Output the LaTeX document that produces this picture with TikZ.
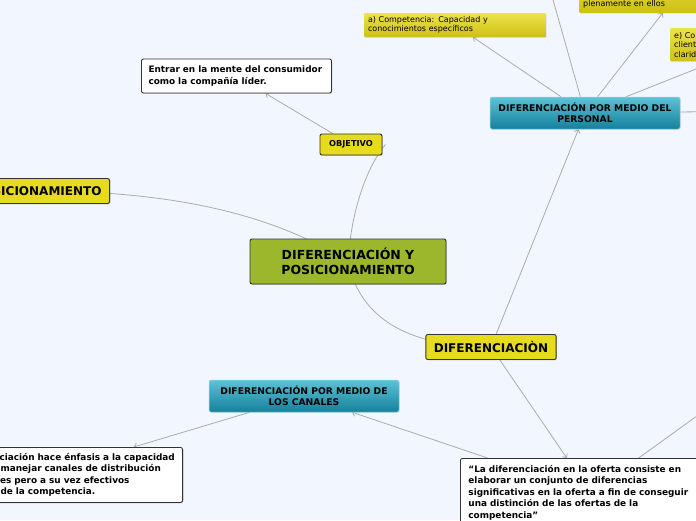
\documentclass[tikz,border=0pt]{standalone}
\usepackage{fontspec}
\setmainfont{DejaVu Sans}
\usetikzlibrary{arrows.meta,shadows}
\definecolor{paper}{RGB}{242,246,254}
\definecolor{olive}{RGB}{157,183,45}
\definecolor{mmyellow}{RGB}{230,219,28}
\definecolor{tealtop}{RGB}{92,194,215}
\definecolor{tealbot}{RGB}{22,128,156}
\definecolor{ytop}{RGB}{237,227,75}
\definecolor{ybot}{RGB}{206,192,22}
\definecolor{linkgray}{RGB}{172,172,172}
\pgfdeclarelayer{canvas}
\pgfdeclarelayer{links}
\pgfsetlayers{canvas,links,main}
\tikzset{
  keybox/.style={draw=black!80, line width=0.9pt, rounded corners=2pt,
    drop shadow={shadow xshift=0.8pt, shadow yshift=-0.8pt, opacity=0.35}},
  rootbox/.style={keybox, fill=olive, align=center,
    font=\bfseries\fontsize{12.5}{14.5}\selectfont, minimum width=196pt, minimum height=45pt},
  topicbox/.style={keybox, fill=mmyellow, inner xsep=8pt,
    font=\bfseries\fontsize{12}{14}\selectfont, minimum height=25pt},
  tagbox/.style={keybox, fill=mmyellow, font=\bfseries\fontsize{8.2}{10}\selectfont,
    minimum width=62pt, minimum height=21pt},
  notebox/.style={keybox, fill=white, align=left, inner xsep=7pt,
    font=\bfseries\fontsize{8.9}{11.4}\selectfont},
  tealbox/.style={rounded corners=2pt, top color=tealtop, bottom color=tealbot,
    draw=tealtop!60!white, line width=0.5pt, align=center,
    font=\bfseries\fontsize{9.2}{11}\selectfont, minimum width=190pt, minimum height=32pt,
    drop shadow={shadow xshift=0.6pt, shadow yshift=-0.8pt, opacity=0.25}},
  detailbox/.style={rounded corners=1pt, top color=ytop, bottom color=ybot, align=left,
    inner xsep=4pt, font=\fontsize{8}{9.5}\selectfont,
    drop shadow={shadow xshift=0.6pt, shadow yshift=-0.8pt, opacity=0.2}},
  branchline/.style={draw=linkgray, line width=0.8pt},
  arrowline/.style={branchline, -{Straight Barb[length=3pt,width=6pt]}}
}
\begin{document}
\begin{tikzpicture}[x=1pt, y=-1pt]
\useasboundingbox (0,0) rectangle (696,520);
\begin{pgfonlayer}{canvas}
  \fill[paper] (0,0) rectangle (696,520);
\end{pgfonlayer}
\clip (0,0) rectangle (696,520);

\node[rootbox] (root) at (348,261.5) {DIFERENCIACIÓN Y\\POSICIONAMIENTO};
\node[topicbox, anchor=east] (posic) at (110,191) {POSICIONAMIENTO};
\node[tagbox] (objetivo) at (351,144.5) {OBJETIVO};
\node[notebox, text width=176pt, minimum height=34pt] (mente) at (236.5,76)
  {Entrar en la mente del consumidor\\como la compañía líder.};
\node[topicbox] (difer) at (491,347) {DIFERENCIACIÒN};
\node[tealbox] (personal) at (585,113) {DIFERENCIACIÓN POR MEDIO DEL\\PERSONAL};
\node[tealbox] (canales) at (304,396) {DIFERENCIACIÓN POR MEDIO DE\\LOS CANALES};
\node[notebox, anchor=north west, text width=244pt, inner xsep=8pt, inner ysep=7pt] (oferta) at (460,458)
  {“La diferenciación en la oferta consiste en\\elaborar un conjunto de diferencias\\significativas en la oferta a fin de conseguir\\una distinción de las ofertas de la\\competencia”};
\node[notebox, anchor=north east, text width=270pt, minimum height=55pt] (notacanal) at (183,447)
  {\hspace*{94pt}ciación hace énfasis a la capacidad\\
   \hspace*{95pt}manejar canales de distribución\\
   \hspace*{94.5pt}es pero a su vez efectivos\\
   \hspace*{95pt}de la competencia.};
\node[detailbox, text width=174pt, minimum height=24pt] (compet) at (455,25)
  {a) Competencia: Capacidad y\\conocimientos específicos};
\node[detailbox, anchor=south west, text width=194pt, text height=35pt, text depth=3pt] (confia) at (579,13)
  {plenamente en ellos};
\node[detailbox, anchor=north west, text width=166pt, minimum height=33pt] (comunic) at (670,28)
  {e) Co\\client\\clarid};
\coordinate (arriba) at (546,-25);
\coordinate (derecha) at (770,111);
\coordinate (abajo) at (740,385);

\begin{pgfonlayer}{links}
  \clip (0,0) rectangle (696,520);
  \draw[branchline] (root.center) .. controls (290,225) and (200,191) .. (posic.center);
  \draw[branchline] (root.center) .. controls (352,200) and (372,160) .. ([xshift=3pt]objetivo.east);
  \draw[branchline] (root.center) .. controls (356,300) and (385,347) .. (difer.center);
  \draw[arrowline] (objetivo) -- (mente);
  \draw[arrowline] (difer) -- (personal);
  \draw[arrowline] (difer) -- (oferta);
  \draw[arrowline] (oferta) -- (canales);
  \draw[arrowline] (canales) -- (notacanal);
  \draw[branchline] (oferta) -- (abajo);
  \draw[arrowline] (personal) -- (compet);
  \draw[arrowline] (personal) -- (confia);
  \draw[arrowline] (personal) -- (comunic);
  \draw[branchline] (personal) -- (arriba);
  \draw[branchline] (personal) -- (derecha);
\end{pgfonlayer}
\end{tikzpicture}
\end{document}
